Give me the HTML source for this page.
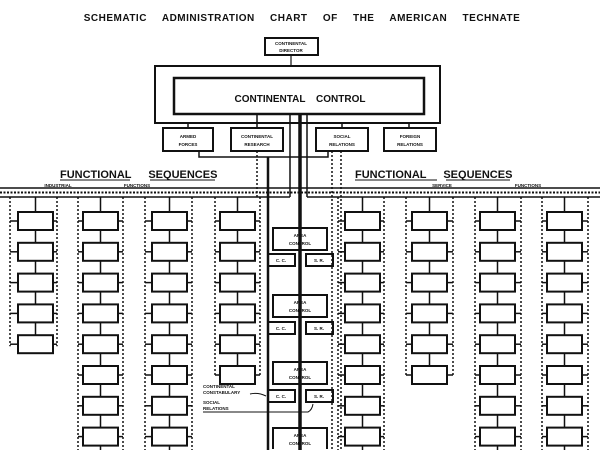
<!DOCTYPE html>
<html><head><meta charset="utf-8"><style>
html,body{margin:0;padding:0;background:#fff;width:600px;height:450px;overflow:hidden;}
svg{display:block;}
text{font-family:"Liberation Sans",sans-serif;font-weight:bold;fill:#111;}
</style></head><body>
<svg id="s" width="600" height="450" viewBox="0 0 600 450" xmlns="http://www.w3.org/2000/svg">
<rect width="600" height="450" fill="#fff"/>
<text x="302" y="21" font-size="10" text-anchor="middle" letter-spacing="0.5" word-spacing="12">SCHEMATIC ADMINISTRATION CHART OF THE AMERICAN TECHNATE</text>
<g fill="none" stroke="#111" stroke-width="2">
<rect x="265" y="38" width="53" height="17"/>
<line x1="291" y1="55" x2="291" y2="66" stroke-width="1.2"/>
<rect x="155" y="66" width="285" height="57"/>
<rect x="174" y="78" width="250" height="36" stroke-width="2.5"/>
<line x1="188" y1="123" x2="188" y2="128" stroke-width="1.5"/>
<line x1="257" y1="114" x2="257" y2="128" stroke-width="1.5"/>
<line x1="342" y1="123" x2="342" y2="128" stroke-width="1.5"/>
<line x1="409" y1="123" x2="409" y2="128" stroke-width="1.5"/>
<rect x="163" y="128" width="50" height="23"/>
<rect x="231" y="128" width="52" height="23"/>
<rect x="316" y="128" width="52" height="23"/>
<rect x="384" y="128" width="52" height="23"/>
<polyline points="199,151 199,157 328,157 328,151" stroke-width="1.5"/>
<line x1="268" y1="157" x2="268" y2="450" stroke-width="2.5"/>
<line x1="290" y1="114" x2="290" y2="197" stroke-width="1.5"/>
<line x1="307" y1="114" x2="307" y2="197" stroke-width="1.5"/>
<line x1="300" y1="114" x2="300" y2="450" stroke-width="3.5"/>
<line x1="257" y1="151" x2="257" y2="197" stroke-dasharray="2,2" stroke-width="1.5"/>
<line x1="332" y1="151" x2="332" y2="450" stroke-dasharray="2,2" stroke-width="1.5"/>
<line x1="341" y1="151" x2="341" y2="450" stroke-dasharray="2,2" stroke-width="1.5"/>
<line x1="0" y1="188" x2="600" y2="188" stroke-width="1.5"/>
<line x1="0" y1="192.5" x2="600" y2="192.5" stroke-width="2" stroke-dasharray="2,1.5"/>
<line x1="0" y1="197" x2="290" y2="197" stroke-width="1.5"/>
<line x1="307" y1="197" x2="600" y2="197" stroke-width="1.5"/>
</g>
<g id="cols" fill="none" stroke="#111" stroke-width="2"></g>
<g fill="none" stroke="#111" stroke-width="2">
<rect x="273" y="228" width="54" height="22"/><rect x="268" y="254" width="27" height="12"/><rect x="306" y="254" width="27" height="12"/>
<rect x="273" y="295" width="54" height="22"/><rect x="268" y="322" width="27" height="12"/><rect x="306" y="322" width="27" height="12"/>
<rect x="273" y="362" width="54" height="22"/><rect x="268" y="390" width="27" height="12"/><rect x="306" y="390" width="27" height="12"/>
<path d="M273,449 L273,428 L327,428 L327,449"/>
<path d="M250,394 Q258,392 266,396" stroke-width="1"/>
<path d="M203,412 L308,412 Q312,410 313,404" stroke-width="1"/>
<line x1="60" y1="180" x2="130" y2="180" stroke-width="1"/>
<line x1="150" y1="180" x2="215" y2="180" stroke-width="1"/>
<line x1="355" y1="180" x2="437" y2="180" stroke-width="1"/>
<line x1="446" y1="180" x2="510" y2="180" stroke-width="1"/>
</g>
<g font-size="4.5" text-anchor="middle">
<text x="291" y="45">CONTINENTAL</text><text x="291" y="52">DIRECTOR</text>
<text x="188" y="138">ARMED</text><text x="188" y="146">FORCES</text>
<text x="257" y="138">CONTINENTAL</text><text x="257" y="146">RESEARCH</text>
<text x="342" y="138">SOCIAL</text><text x="342" y="146">RELATIONS</text>
<text x="410" y="138">FOREIGN</text><text x="410" y="146">RELATIONS</text>
<text x="300" y="237">AREA</text><text x="300" y="245">CONTROL</text>
<text x="300" y="304">AREA</text><text x="300" y="312">CONTROL</text>
<text x="300" y="371">AREA</text><text x="300" y="379">CONTROL</text>
<text x="300" y="437">AREA</text><text x="300" y="445">CONTROL</text>
<text x="281" y="262">C. C.</text><text x="319" y="262">S. R.</text>
<text x="281" y="330">C. C.</text><text x="319" y="330">S. R.</text>
<text x="281" y="398">C. C.</text><text x="319" y="398">S. R.</text>
<text x="58" y="187">INDUSTRIAL</text><text x="137" y="187">FUNCTIONS</text>
<text x="442" y="187">SERVICE</text><text x="528" y="187">FUNCTIONS</text>
</g>
<g font-size="4.5">
<text x="203" y="388">CONTINENTAL</text><text x="203" y="394">CONSTABULARY</text>
<text x="203" y="404">SOCIAL</text><text x="203" y="410">RELATIONS</text>
</g>
<text x="300" y="102" font-size="10" text-anchor="middle" word-spacing="8" font-weight="normal">CONTINENTAL CONTROL</text>
<text x="60" y="178" font-size="11" word-spacing="14">FUNCTIONAL SEQUENCES</text>
<text x="355" y="178" font-size="11" word-spacing="14">FUNCTIONAL SEQUENCES</text>
</svg>
<script>
var g=document.getElementById('cols'),ns='http://www.w3.org/2000/svg';
function el(t,a){var e=document.createElementNS(ns,t);for(var k in a)e.setAttribute(k,a[k]);g.appendChild(e);}
var cols=[[18,5,10,57],[83,9,78,123],[152,9,145,192],[220,6,215,260],[345,9,338,384],[412,6,406,453],[480,9,475,521],[547,9,542,588]];
cols.forEach(function(c){var x=c[0],n=c[1],w=35,h=18,cx=x+w/2;
var last=212+(n-1)*30.8;
el('line',{x1:cx,y1:197,x2:cx,y2:Math.min(last,450),'stroke-width':1.5});
el('line',{x1:c[2],y1:197,x2:c[2],y2:Math.min(last+h/2+2,450),'stroke-dasharray':'2,2','stroke-width':1.5});
el('line',{x1:c[3],y1:197,x2:c[3],y2:Math.min(last+h/2+2,450),'stroke-dasharray':'2,2','stroke-width':1.5});
for(var i=0;i<n;i++){var y=212+i*30.8;
el('line',{x1:c[2],y1:y+h/2,x2:x,y2:y+h/2,'stroke-width':1.5});
el('line',{x1:x+w,y1:y+h/2,x2:c[3],y2:y+h/2,'stroke-width':1.5});
el('rect',{x:x,y:y,width:w,height:Math.min(h,449-y),fill:'#fff'});}
});
</script>
</body></html>
